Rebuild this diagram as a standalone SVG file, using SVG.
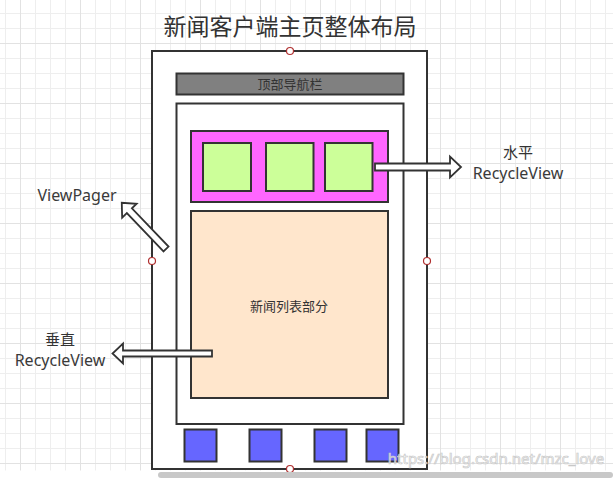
<svg xmlns="http://www.w3.org/2000/svg" width="613" height="478" viewBox="0 0 613 478">
<style>
.box{stroke:#333;stroke-width:2}
.t{font-family:"Noto Sans","Noto Sans CJK SC",sans-serif;fill:#3a3a3a}
.cn{font-family:"Noto Sans CJK SC","Noto Sans",sans-serif;fill:#333}
.arrow{fill:#fff;stroke:#333;stroke-width:1.8;stroke-linejoin:miter}
.pt{fill:#fff;stroke:#b03030;stroke-width:1.2}
</style>
<defs>
<pattern id="grid" x="20" y="43" width="60" height="60" patternUnits="userSpaceOnUse">
<rect x="0" y="0" width="60" height="60" fill="#fff"/>
<rect x="15" y="0" width="1" height="60" fill="#eeeeee"/>
<rect x="30" y="0" width="1" height="60" fill="#eeeeee"/>
<rect x="45" y="0" width="1" height="60" fill="#eeeeee"/>
<rect x="0" y="15" width="60" height="1" fill="#eeeeee"/>
<rect x="0" y="30" width="60" height="1" fill="#eeeeee"/>
<rect x="0" y="45" width="60" height="1" fill="#eeeeee"/>
<rect x="0" y="0" width="1" height="60" fill="#e2e2e2"/>
<rect x="0" y="0" width="60" height="1" fill="#e2e2e2"/>
</pattern>
</defs>
<rect x="0" y="0" width="613" height="478" fill="url(#grid)"/>
<rect x="0" y="470.5" width="613" height="8" fill="#fff"/>

<g id="title"><text class="cn" x="290" y="35" font-size="23" text-anchor="middle">新闻客户端主页整体布局</text></g>

<g id="phone">
<rect class="box" x="152" y="51" width="275" height="418" fill="#fff"/>
</g>
<g id="navbar">
<rect class="box" x="176.5" y="73.5" width="227" height="21" fill="#808080"/>
<text class="cn" x="290" y="88.5" font-size="13" text-anchor="middle">顶部导航栏</text>
</g>
<g id="viewpager">
<rect class="box" x="176.5" y="103.5" width="227" height="320.5" fill="#fff"/>
</g>
<g id="hlist">
<rect class="box" x="191" y="131" width="197" height="71" fill="#ff66ff"/>
</g>
<g id="h1"><rect class="box" x="203" y="143" width="48" height="48" fill="#ccff99"/></g>
<g id="h2"><rect class="box" x="266" y="143" width="47.5" height="48" fill="#ccff99"/></g>
<g id="h3"><rect class="box" x="325" y="143" width="47.5" height="48" fill="#ccff99"/></g>
<g id="newslist">
<rect class="box" x="191" y="211" width="197" height="187" fill="#ffe6cc"/>
<text class="cn" x="289" y="310.5" font-size="13" text-anchor="middle">新闻列表部分</text>
</g>
<g id="b1"><rect class="box" x="184.5" y="429.5" width="32" height="32" fill="#6666ff"/></g>
<g id="b2"><rect class="box" x="249.5" y="429.5" width="32" height="32" fill="#6666ff"/></g>
<g id="b3"><rect class="box" x="314.5" y="429.5" width="32" height="32" fill="#6666ff"/></g>
<g id="b4"><rect class="box" x="366.5" y="429.5" width="32" height="32" fill="#6666ff"/></g>

<g id="points">
<circle class="pt" cx="290" cy="51" r="3.5"/>
<circle class="pt" cx="152" cy="261" r="3.5"/>
<circle class="pt" cx="427" cy="261" r="3.5"/>
<circle class="pt" cx="290" cy="469" r="3.5"/>
</g>

<g id="connectors">
<polygon class="arrow" transform="translate(375,167)" points="0,-3.5 75,-3.5 75,-10.5 86,0 75,10.5 75,3.5 0,3.5"/>
<polygon class="arrow" transform="translate(212,353.5) rotate(180)" points="0,-3 89,-3 89,-10 99.5,0 89,10 89,3 0,3"/>
<polygon class="arrow" transform="translate(166,249) rotate(-133.7)" points="0,-3.5 53,-3.5 53,-10 64,0 53,10 53,3.5 0,3.5"/>
</g>

<g id="label-h">
<text class="cn" x="518" y="158" font-size="15" text-anchor="middle">水平</text>
<text class="t" x="518" y="178.5" font-size="16" text-anchor="middle">RecycleView</text>
</g>
<g id="label-vp">
<text class="t" x="77" y="201" font-size="16" text-anchor="middle">ViewPager</text>
</g>
<g id="label-v">
<text class="cn" x="60" y="345" font-size="15" text-anchor="middle">垂直</text>
<text class="t" x="60" y="365.5" font-size="16" text-anchor="middle">RecycleView</text>
</g>

<g id="watermark">
<text x="496" y="464" font-family="Noto Sans, sans-serif" font-size="15" text-anchor="middle" fill="#fff" fill-opacity="0.7" stroke="#c8c8c8" stroke-width="0.7">https://blog.csdn.net/mzc_love</text>
</g>
<rect x="158" y="472" width="455" height="6" rx="3" fill="#c8c8c8"/>
</svg>
